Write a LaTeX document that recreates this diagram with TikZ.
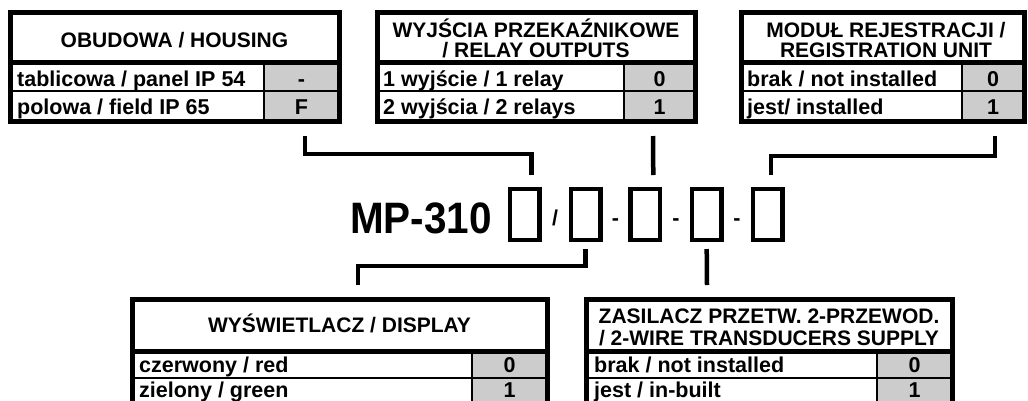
\documentclass[tikz,border=0pt]{standalone}
\usepackage{fontspec}
\setmainfont{Liberation Sans}

\definecolor{cellgray}{gray}{0.8}

% frame of one option table: left, split, right, top, head line, row line, bottom
\newcommand{\optiongrid}[7]{%
	\fill[cellgray] (#2, #5) rectangle (#3, #7);
	\draw[inner rule] (#2, #5) -- (#2, #7);
	\draw[inner rule] (#1, #6) -- (#3, #6);
	\draw[outer rule] (#1, #5) -- (#3, #5);
	\draw[outer rule] (#1, #4) rectangle (#3, #7);
}

\begin{document}
\begin{tikzpicture}[x=1pt, y=-1pt,
	head/.style={font=\fontsize{21}{22}\selectfont\bfseries, inner sep=0pt},
	txt/.style={font=\fontsize{21.5}{22}\selectfont\bfseries, inner sep=0pt},
	outer rule/.style={line width=5pt},
	inner rule/.style={line width=1.6pt},
	slot/.style={draw, line width=4.3pt, minimum width=29.7pt, minimum height=50.7pt, inner sep=0pt},
	link/.style={line width=4.5pt}]
	\clip (0, 0) rectangle (1028, 400);

	% upper tables
	\optiongrid{10}{264}{339}{12}{62.5}{91}{121}
	\node[head, anchor=base] (housing) at (174.5, 47) {OBUDOWA / HOUSING};
	\node[txt, anchor=base west] (housing-r1) at (17, 86) {tablicowa / panel IP 54};
	\node[txt, anchor=base west] (housing-r2) at (17, 114) {polowa / field IP 65};
	\node[txt, anchor=base] (housing-v1) at (301.5, 86) {-};
	\node[txt, anchor=base] (housing-v2) at (301.5, 114) {F};

	\optiongrid{377}{624}{695}{12}{62.5}{91}{121}
	\node[head, anchor=base] (relay) at (536, 37) {WYJŚCIA PRZEKAŹNIKOWE};
	\node[head, anchor=base] (relay-2) at (536, 57) {/ RELAY OUTPUTS};
	\node[txt, anchor=base west] (relay-r1) at (383, 86) {1 wyjście / 1 relay};
	\node[txt, anchor=base west] (relay-r2) at (383, 114) {2 wyjścia / 2 relays};
	\node[txt, anchor=base] (relay-v1) at (659.5, 86) {0};
	\node[txt, anchor=base] (relay-v2) at (659.5, 114) {1};

	\optiongrid{741}{962}{1024}{12}{62.5}{91}{121}
	\node[head, anchor=base] (module) at (886, 37) {MODUŁ REJESTRACJI /};
	\node[head, anchor=base] (module-2) at (886, 57) {REGISTRATION UNIT};
	\node[txt, anchor=base west] (module-r1) at (747, 86) {brak / not installed};
	\node[txt, anchor=base west] (module-r2) at (747, 114) {jest/ installed};
	\node[txt, anchor=base] (module-v1) at (993, 86) {0};
	\node[txt, anchor=base] (module-v2) at (993, 114) {1};

	% order code
	\node[anchor=base east, inner sep=0pt] (model) at (492, 233)
		{\scalebox{0.92}[1]{\fontsize{44}{44}\selectfont\bfseries MP-310}};
	\node[slot] (slot1) at (524.6, 214.5) {};
	\node[slot] (slot2) at (585.6, 214.5) {};
	\node[slot] (slot3) at (645.3, 214.5) {};
	\node[slot] (slot4) at (706.7, 214.5) {};
	\node[slot] (slot5) at (767.5, 214.5) {};
	\node[txt, anchor=base] (sep1) at (555, 225) {/};
	\node[txt, anchor=base] (sep2) at (615.5, 225) {-};
	\node[txt, anchor=base] (sep3) at (676, 225) {-};
	\node[txt, anchor=base] (sep4) at (737, 225) {-};

	% lower tables
	\optiongrid{132}{472}{547}{299.5}{351}{378}{406}
	\node[head, anchor=base] (display) at (339.5, 332) {WYŚWIETLACZ / DISPLAY};
	\node[txt, anchor=base west] (display-r1) at (139, 372) {czerwony / red};
	\node[txt, anchor=base west] (display-r2) at (139, 397) {zielony / green};
	\node[txt, anchor=base] (display-v1) at (509.5, 372) {0};
	\node[txt, anchor=base] (display-v2) at (509.5, 397) {1};

	\optiongrid{586}{877}{952}{299.5}{351}{378}{406}
	\node[head, anchor=base] (supply) at (769, 323) {ZASILACZ PRZETW. 2-PRZEWOD.};
	\node[head, anchor=base] (supply-2) at (769, 345) {/ 2-WIRE TRANSDUCERS SUPPLY};
	\node[txt, anchor=base west] (supply-r1) at (594, 372) {brak / not installed};
	\node[txt, anchor=base west] (supply-r2) at (594, 397) {jest / in-built};
	\node[txt, anchor=base] (supply-v1) at (914.5, 372) {0};
	\node[txt, anchor=base] (supply-v2) at (914.5, 397) {1};

	% connectors
	\coordinate (housing-out) at (305, 136);
	\coordinate (relay-out) at (653, 136);
	\coordinate (module-out) at (995, 136);
	\coordinate (display-in) at (358, 285);
	\coordinate (supply-in) at (707, 285);
	\coordinate (drop1) at ([xshift=7pt, yshift=12pt]slot1.north);
	\coordinate (drop3) at ([xshift=8pt, yshift=12pt]slot3.north);
	\coordinate (drop5) at ([xshift=3.5pt, yshift=12pt]slot5.north);
	\coordinate (rise2) at ([yshift=-7pt]slot2.south);
	\coordinate (rise4) at ([yshift=-7pt]slot4.south);
	\draw[link] (housing-out) -- ++(0, 18) -| (drop1);
	\draw[link] (relay-out) -- (drop3);
	\draw[link] (module-out) -- ++(0, 20) -| (drop5);
	\draw[link] (rise2) -- ++(0, 17) -| (display-in);
	\draw[link] (rise4) -- (supply-in);
\end{tikzpicture}
\end{document}
